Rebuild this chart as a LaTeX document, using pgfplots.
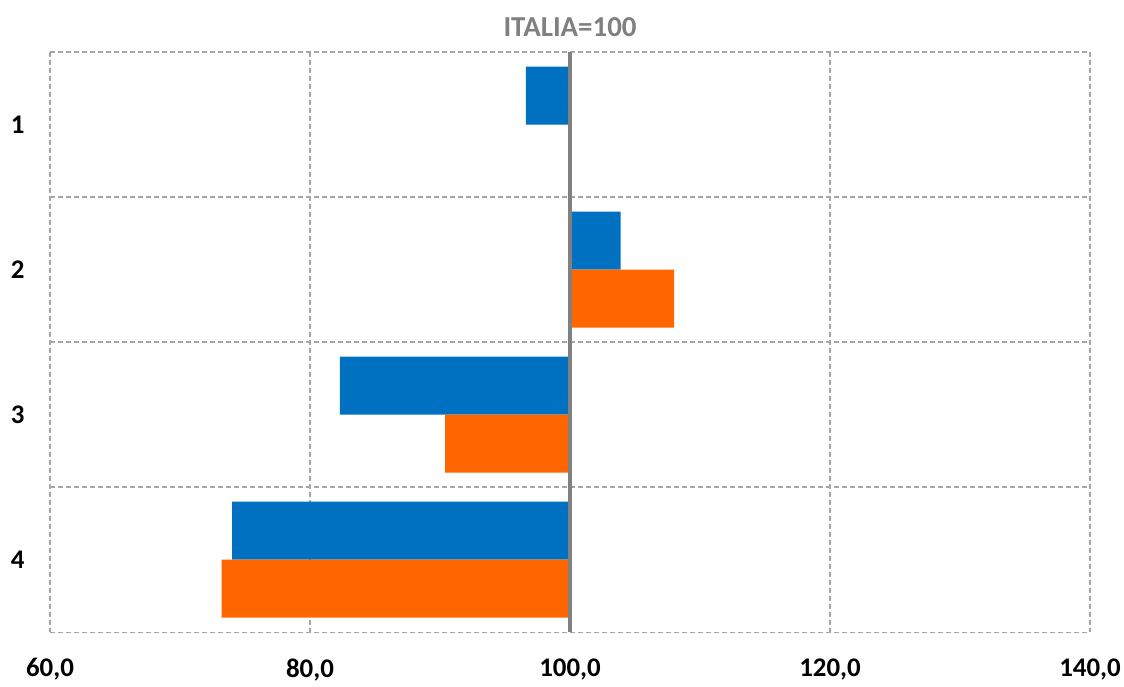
\documentclass[border=0pt]{standalone}
\usepackage{pgfplots}
\pgfplotsset{compat=1.18}
\usepackage{fontspec}
\setmainfont{Carlito}
\usetikzlibrary{calc}
\definecolor{barblue}{HTML}{0070C0}
\definecolor{barorange}{HTML}{FF6600}
\definecolor{axgray}{HTML}{808080}
\definecolor{gridgray}{HTML}{A6A6A6}

\begin{document}
\begin{tikzpicture}
\begin{axis}[
  name=ax,
  scale only axis,
  width=1040bp, height=580bp,
  % bars start at 100 (ITALIA=100)
  x coord trafo/.code={\pgfmathparse{#1-100}},
  x coord inv trafo/.code={\pgfmathparse{#1+100}},
  xmin=60, xmax=140,
  xtick={60,80,100,120,140},
  xticklabels={{60,0},{80,0},{100,0},{120,0},{140,0}},
  ymin=0.5, ymax=4.5,
  y dir=reverse,
  ytick={1,2,3,4},
  yticklabels={1,2,3,4},
  minor ytick={0.5,1.5,2.5,3.5,4.5},
  xmajorgrids, yminorgrids,
  grid style={gridgray, dash pattern=on 5bp off 3bp, line width=1.1bp},
  minor grid style={gridgray, dash pattern=on 5bp off 3bp, line width=1.1bp},
  axis line style={draw=none},
  major tick length=0pt, minor tick length=0pt,
  tick label style={font=\fontsize{27}{30}\selectfont\bfseries},
  yticklabel style={xshift=-22bp},
  xticklabel style={yshift=-23bp},
  title={ITALIA=100},
  title style={font=\fontsize{29}{34}\selectfont\bfseries, text=axgray,
    at={(0.5,1)}, anchor=base, yshift=10bp},
]
\addplot[xbar, bar width=58bp, bar shift=29bp, fill=barblue, draw=none]
  coordinates {(96.6,1) (103.9,2) (82.3,3) (74.0,4)};
\addplot[xbar, bar width=58bp, bar shift=-29bp, fill=barorange, draw=none]
  coordinates {(108.0,2) (90.4,3) (73.2,4)};
\addplot[axgray, line width=4.5bp, sharp plot, no marks]
  coordinates {(100,0.5) (100,4.5)};
\end{axis}
\pgfresetboundingbox
\path ($(ax.south west)+(-50bp,-54bp)$) rectangle ($(ax.north east)+(34bp,52bp)$);
\end{tikzpicture}
\end{document}
